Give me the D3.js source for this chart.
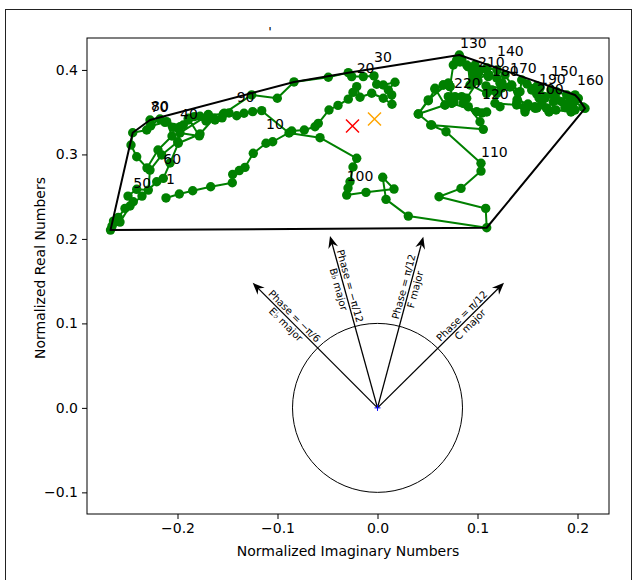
<!DOCTYPE html>
<html>
<head>
<meta charset="utf-8">
<script src="https://cdn.jsdelivr.net/npm/d3@7"></script>
<style>
  body { margin: 0; background: #fff; }
  text { font-family: "DejaVu Sans", sans-serif; fill: #000; }
</style>
</head>
<body>
<div id="chart"></div>
<script>
// trajectory (normalized imaginary, normalized real), in drawing order
const trajX = [-0.2115,-0.1982,-0.1848,-0.1668,-0.1452,-0.1448,-0.1382,-0.1325,-0.1242,-0.1115,
  -0.1048,-0.0858,-0.0732,-0.0625,-0.0592,-0.0485,-0.0395,-0.0292,-0.0245,-0.0208,
  -0.0175,-0.0058,0.0058,0.0145,0.0142,0.0108,0.0175,0.0058,-0.0008,-0.0035,
  -0.0142,-0.0258,-0.0292,-0.0492,-0.0835,-0.1002,-0.1258,-0.1542,-0.1692,-0.1975,
  -0.1782,-0.1892,-0.1942,-0.1998,-0.2158,-0.2275,-0.2292,-0.2408,-0.2495,-0.2442,
  -0.2525,-0.2592,-0.2640,-0.2655,-0.2670,-0.2575,-0.2475,-0.2355,-0.2208,-0.2142,
  -0.2075,-0.1992,-0.1775,-0.1635,-0.1715,-0.1832,-0.1995,-0.2042,-0.2125,-0.2270,
  -0.2308,-0.2448,-0.2465,-0.2408,-0.2305,-0.2195,-0.2055,-0.2108,-0.2275,-0.2265,
  -0.2175,-0.1975,-0.1892,-0.1775,-0.1692,-0.1625,-0.1532,-0.1555,-0.1485,-0.1408,
  -0.1335,-0.1248,-0.1158,-0.0885,-0.0575,-0.0208,-0.0245,-0.0275,-0.0295,-0.0308,
  -0.0115,0.0165,0.0052,0.0085,0.0308,0.1092,0.1082,0.0615,0.0835,0.1035,
  0.1035,0.0685,0.0532,0.1058,0.1025,0.0908,0.0858,0.0992,0.1092,0.1045,
  0.0742,0.0675,0.0408,0.0508,0.0575,0.0658,0.0708,0.0725,0.0758,0.0825,
  0.0818,0.0792,0.0842,0.0892,0.0958,0.0958,0.1108,0.0975,0.1095,0.1195,
  0.1275,0.1342,0.1425,0.1442,0.1495,0.1595,0.1625,0.1675,0.1792,0.1735,
  0.1892,0.1958,0.1975,0.2075,0.2008,0.1958,0.1905,0.1975,0.1925,0.1995,
  0.1842,0.1758,0.1692,0.1575,0.1492,0.1392,0.1475,0.1408,0.1225,0.1325,
  0.1192,0.1108,0.1008,0.0908,0.0925,0.1092,0.1195,0.1242,0.1085,0.1145,
  0.1225,0.1175,0.1392,0.1475,0.1575,0.1642,0.1742,0.1542,0.1592,0.1615,
  0.1715,0.1795,0.1875,0.1975,0.1965,0.2055,0.1935,0.1785,0.1692,0.1595,
  0.1505,0.1395,0.1342,0.1245,0.1115,0.1025,0.0958,0.0905,0.0955,0.1005,
  0.0892,0.0842,0.0775,0.0708,0.0742,0.0675,0.0575,0.0658,0.0725,0.0765,
  0.0708,0.0508,0.0408,0.0542];
const trajY = [0.2485,0.2531,0.2570,0.2617,0.2665,0.2764,0.2809,0.2847,0.3013,0.3132,
  0.3150,0.3277,0.3289,0.3328,0.3368,0.3526,0.3580,0.3654,0.3734,0.3802,
  0.3677,0.3724,0.3665,0.3594,0.3704,0.3763,0.3854,0.3822,0.3831,0.3929,
  0.3921,0.3921,0.3968,0.3914,0.3858,0.3665,0.3704,0.3479,0.3467,0.3254,
  0.3219,0.3428,0.3348,0.3150,0.2993,0.2815,0.2578,0.2587,0.2507,0.2440,
  0.2361,0.2255,0.2211,0.2151,0.2104,0.2199,0.2389,0.2507,0.2677,0.2717,
  0.2898,0.3132,0.3242,0.3428,0.3396,0.3447,0.3313,0.3320,0.3380,0.3337,
  0.3289,0.3257,0.3111,0.2973,0.2840,0.3052,0.3218,0.3388,0.3407,0.3348,
  0.3419,0.3328,0.3407,0.3451,0.3473,0.3407,0.3487,0.3432,0.3491,0.3458,
  0.3487,0.3506,0.3518,0.3253,0.3198,0.2954,0.2851,0.2677,0.2602,0.2519,
  0.2551,0.2590,0.2729,0.2468,0.2270,0.2132,0.2361,0.2499,0.2598,0.2803,
  0.2895,0.3269,0.3348,0.3297,0.3387,0.3565,0.3606,0.3506,0.3502,0.3491,
  0.3606,0.3585,0.3479,0.3636,0.3771,0.3822,0.3842,0.3802,0.4059,0.4094,
  0.4177,0.4118,0.4126,0.4059,0.3961,0.3881,0.3941,0.4059,0.4024,0.4000,
  0.3941,0.3822,0.3743,0.3881,0.3834,0.3810,0.3787,0.3665,0.3739,0.3763,
  0.3704,0.3624,0.3526,0.3545,0.3663,0.3526,0.3597,0.3685,0.3658,0.3657,
  0.3624,0.3624,0.3546,0.3546,0.3561,0.3606,0.3526,0.3735,0.3842,0.3798,
  0.3905,0.3921,0.3961,0.4039,0.3822,0.3723,0.3723,0.3787,0.3811,0.3763,
  0.3565,0.3606,0.3585,0.3502,0.3565,0.3606,0.3711,0.3763,0.3716,0.3669,
  0.3502,0.3645,0.3555,0.3704,0.3621,0.3562,0.3502,0.3526,0.3546,0.3550,
  0.3597,0.3645,0.3815,0.3846,0.3941,0.4000,0.3961,0.4039,0.3881,0.3870,
  0.3665,0.3684,0.3684,0.3684,0.3606,0.3585,0.3783,0.3822,0.3802,0.3621,
  0.3842,0.3645,0.3479,0.3348];

// two centre markers
const markX = [-0.025, -0.003];
const markY = [0.3336, 0.3419];
const markColor = ["red", "orange"];

// key arrows from the origin
const arrowX = [-0.1248, -0.0475, 0.0458, 0.1265];
const arrowY = [0.1480, 0.2033, 0.2025, 0.1480];
const arrowPhase = ["Phase = \u2212\u03c0/6", "Phase = \u2212\u03c0/12", "Phase = \u03c0/12", "Phase = \u03c0/12"];
const arrowKey = ["E\u266d major", "B\u266d major", "F major", "C major"];

// circle radii (imaginary, real)
const circleR = [0.085, 0.1];

const xTicks = [-0.2, -0.1, 0.0, 0.1, 0.2];
const yTicks = [-0.1, 0.0, 0.1, 0.2, 0.3, 0.4];
const xLim = [-0.2905, 0.2315];
const yLim = [-0.1256, 0.4378];

const width = 636, height = 580;
const margin = { top: 38, right: 27, bottom: 66, left: 87 };
const fs = 14;

const svg = d3.select("#chart").append("svg")
  .attr("width", width)
  .attr("height", height);

// figure frame
svg.append("rect")
  .attr("x", 5.5).attr("y", 9.5)
  .attr("width", 626).attr("height", 600)
  .attr("fill", "none").attr("stroke", "#222").attr("stroke-width", 1);

const x = d3.scaleLinear().domain(xLim).range([margin.left, width - margin.right]);
const y = d3.scaleLinear().domain(yLim).range([height - margin.bottom, margin.top]);

const pts = trajX.map((v, i) => [v, trajY[i]]);

// title mark
svg.append("text")
  .attr("x", 270).attr("y", 36)
  .attr("text-anchor", "middle")
  .style("font-size", "13px")
  .text("'");

// trajectory
svg.append("path")
  .datum(pts)
  .attr("fill", "none")
  .attr("stroke", "green")
  .attr("stroke-width", 2)
  .attr("stroke-linejoin", "round")
  .attr("d", d3.line().x(d => x(d[0])).y(d => y(d[1])));

svg.selectAll("circle.pt")
  .data(pts)
  .enter()
  .append("circle")
    .attr("class", "pt")
    .attr("cx", d => x(d[0]))
    .attr("cy", d => y(d[1]))
    .attr("r", 4.7)
    .attr("fill", "green");

// convex hull
const hull = d3.polygonHull(pts);
svg.append("path")
  .datum(hull)
  .attr("fill", "none")
  .attr("stroke", "black")
  .attr("stroke-width", 2)
  .attr("stroke-linejoin", "round")
  .attr("d", d => "M" + d.map(p => x(p[0]) + "," + y(p[1])).join("L") + "Z");

// index labels every 10 points
svg.selectAll("text.idx")
  .data(pts.map((p, i) => ({ p: p, n: i + 1 })).filter(d => d.n === 1 || d.n % 10 === 0))
  .enter()
  .append("text")
    .attr("class", "idx")
    .attr("x", d => x(d.p[0]))
    .attr("y", d => y(d.p[1]) - 13.9)
    .style("font-size", fs + "px")
    .text(d => d.n);

// centre crosses
markX.forEach((mx, i) => {
  const cx = x(mx), cy = y(markY[i]), s = 6.5;
  svg.append("path")
    .attr("d", `M${cx - s},${cy - s}L${cx + s},${cy + s}M${cx - s},${cy + s}L${cx + s},${cy - s}`)
    .attr("stroke", markColor[i])
    .attr("stroke-width", 1.5)
    .attr("fill", "none");
});

// circle around the origin
svg.append("ellipse")
  .attr("cx", x(0)).attr("cy", y(0))
  .attr("rx", x(circleR[0]) - x(0))
  .attr("ry", y(0) - y(circleR[1]))
  .attr("fill", "none")
  .attr("stroke", "black")
  .attr("stroke-width", 1);

// arrows with labels
const ox = x(0), oy = y(0);
arrowX.forEach((ax, i) => {
  const tx = x(ax), ty = y(arrowY[i]);
  const dx = tx - ox, dy = ty - oy;
  const len = Math.hypot(dx, dy);
  const ux = dx / len, uy = dy / len;
  const ang = Math.atan2(dy, dx) * 180 / Math.PI;
  const headL = 12, headW = 5;
  const bx = tx - ux * headL, by = ty - uy * headL;

  svg.append("line")
    .attr("x1", ox).attr("y1", oy)
    .attr("x2", tx - ux * 6).attr("y2", ty - uy * 6)
    .attr("stroke", "black").attr("stroke-width", 1.3);

  svg.append("path")
    .attr("d", `M${tx},${ty}L${bx - uy * headW},${by + ux * headW}L${tx - ux * 8},${ty - uy * 8}L${bx + uy * headW},${by - ux * headW}Z`)
    .attr("fill", "black");

  // label block centred on the shaft
  const lx = ox + dx * 0.7, ly = oy + dy * 0.7;
  const rot = dx < 0 ? ang + 180 : ang;
  const g = svg.append("g")
    .attr("transform", `translate(${lx},${ly}) rotate(${rot})`);
  g.append("text")
    .attr("text-anchor", "middle")
    .attr("y", -2.5)
    .style("font-size", "10px")
    .text(arrowPhase[i]);
  g.append("text")
    .attr("text-anchor", "middle")
    .attr("y", 9.4)
    .style("font-size", "10px")
    .text(arrowKey[i]);
});

// origin marker
svg.append("path")
  .attr("d", `M${ox - 3},${oy}L${ox + 3},${oy}M${ox},${oy - 3}L${ox},${oy + 3}`)
  .attr("stroke", "blue").attr("stroke-width", 1);

// axes
const xAxis = svg.append("g")
  .attr("transform", `translate(0,${height - margin.bottom})`)
  .call(d3.axisBottom(x).tickValues(xTicks).tickFormat(d3.format(".1f")).tickSize(5).tickPadding(4));
const yAxis = svg.append("g")
  .attr("transform", `translate(${margin.left},0)`)
  .call(d3.axisLeft(y).tickValues(yTicks).tickFormat(d3.format(".1f")).tickSize(5).tickPadding(4));
[xAxis, yAxis].forEach(a => {
  a.select(".domain").remove();
  a.selectAll("text").style("font-size", fs + "px").style("font-family", "DejaVu Sans, sans-serif").attr("fill", "#000");
  a.selectAll("line").attr("stroke", "#000");
});

svg.append("rect")
  .attr("x", margin.left).attr("y", margin.top)
  .attr("width", width - margin.left - margin.right)
  .attr("height", height - margin.top - margin.bottom)
  .attr("fill", "none").attr("stroke", "black").attr("stroke-width", 1);

svg.append("text")
  .attr("x", (margin.left + width - margin.right) / 2)
  .attr("y", 556)
  .attr("text-anchor", "middle")
  .style("font-size", fs + "px")
  .text("Normalized Imaginary Numbers");

svg.append("text")
  .attr("transform", `translate(45,268) rotate(-90)`)
  .attr("text-anchor", "middle")
  .style("font-size", fs + "px")
  .text("Normalized Real Numbers");
</script>
</body>
</html>
